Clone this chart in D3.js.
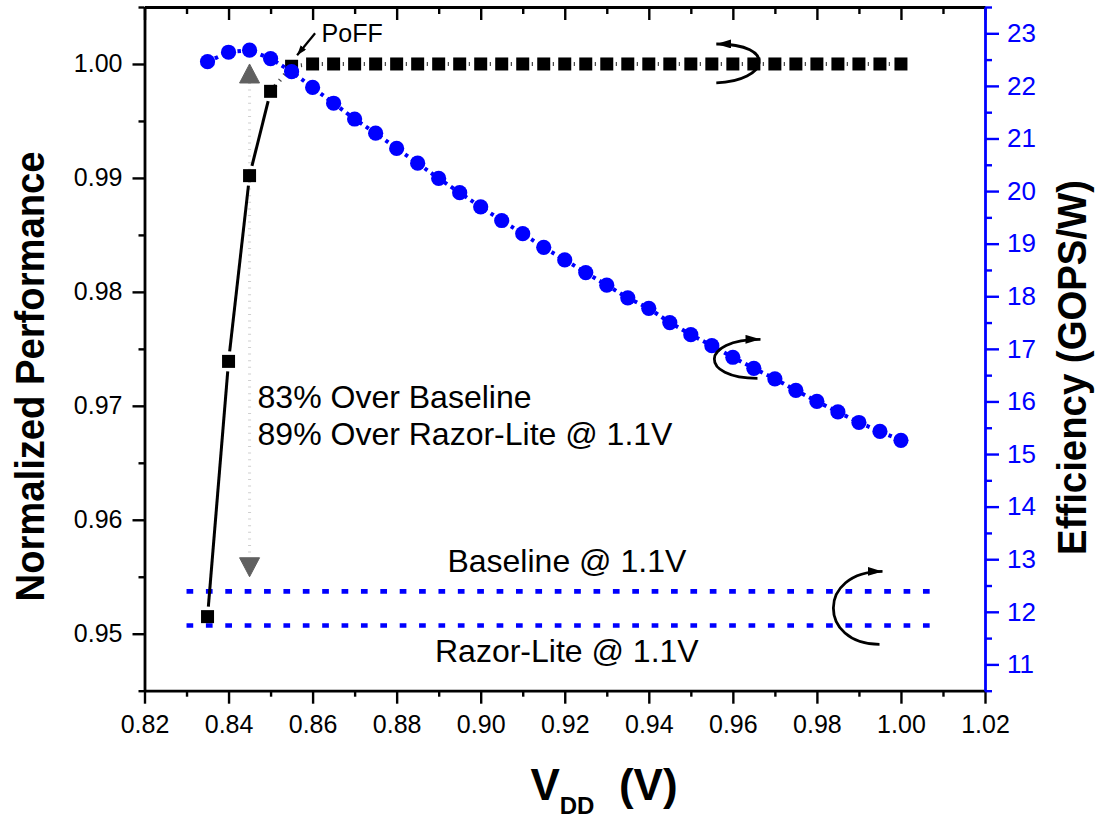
<!DOCTYPE html>
<html>
<head>
<meta charset="utf-8">
<script src="https://cdn.jsdelivr.net/npm/d3@7"></script>
<style>
  html, body { margin: 0; padding: 0; background: #ffffff; }
  svg { display: block; font-family: "Liberation Sans", Arial, Helvetica, sans-serif; }
</style>
</head>
<body>
<svg id="chart" width="1095" height="822"></svg>
<script>
// Supply voltage sweep (V)
const vdd = [0.835, 0.840, 0.845, 0.850, 0.855, 0.860, 0.865, 0.870, 0.875, 0.880,
             0.885, 0.890, 0.895, 0.900, 0.905, 0.910, 0.915, 0.920, 0.925, 0.930,
             0.935, 0.940, 0.945, 0.950, 0.955, 0.960, 0.965, 0.970, 0.975, 0.980,
             0.985, 0.990, 0.995, 1.000];

// Normalized performance (left axis)
const performance = [0.9515, 0.9739, 0.9902, 0.9976, 0.9998, 1.0000, 1.0000, 1.0000, 1.0000, 1.0000,
                     1.0000, 1.0000, 1.0000, 1.0000, 1.0000, 1.0000, 1.0000, 1.0000, 1.0000, 1.0000,
                     1.0000, 1.0000, 1.0000, 1.0000, 1.0000, 1.0000, 1.0000, 1.0000, 1.0000, 1.0000,
                     1.0000, 1.0000, 1.0000, 1.0000];

// Energy efficiency in GOPS/W (right axis)
const efficiency = [22.46, 22.64, 22.68, 22.52, 22.27, 21.97, 21.67, 21.37, 21.10, 20.81,
                    20.53, 20.24, 19.97, 19.70, 19.44, 19.19, 18.93, 18.69, 18.45, 18.21,
                    17.97, 17.77, 17.50, 17.27, 17.06, 16.84, 16.63, 16.43, 16.21, 16.00,
                    15.80, 15.60, 15.43, 15.26];

// Reference designs operated at 1.1 V (right axis)
const baselineEff = 12.39;
const razorLiteEff = 11.74;
const refSpan = [0.830, 1.007];

// Tick values
const xTicks = [0.82, 0.84, 0.86, 0.88, 0.90, 0.92, 0.94, 0.96, 0.98, 1.00, 1.02];
const xMinorTicks = [0.83, 0.85, 0.87, 0.89, 0.91, 0.93, 0.95, 0.97, 0.99, 1.01];
const perfTicks = [0.95, 0.96, 0.97, 0.98, 0.99, 1.00];
const perfMinorTicks = [0.945, 0.955, 0.965, 0.975, 0.985, 0.995, 1.005];
const effTicks = [11, 12, 13, 14, 15, 16, 17, 18, 19, 20, 21, 22, 23];
const effMinorTicks = [10.5, 11.5, 12.5, 13.5, 14.5, 15.5, 16.5, 17.5, 18.5, 19.5, 20.5, 21.5, 22.5, 23.5];

const BLUE = "#0000ff";
const plot = { left: 144.5, right: 985, top: 7, bottom: 690.7 };

const svg = d3.select("#chart");

const x = d3.scaleLinear().domain([0.82, 1.02]).range([plot.left, plot.right]);
const yL = d3.scaleLinear().domain([0.945, 1.005]).range([plot.bottom, plot.top]);
const yR = d3.scaleLinear().domain([10.5, 23.5]).range([plot.bottom, plot.top]);

const perfData = vdd.map((v, i) => ({ v, p: performance[i] }));
const effData = vdd.map((v, i) => ({ v, e: efficiency[i] }));

// Markers for the annotation arrows
const defs = svg.append("defs");
defs.append("marker")
  .attr("id", "headBig").attr("markerUnits", "userSpaceOnUse")
  .attr("markerWidth", 16).attr("markerHeight", 10)
  .attr("refX", 15).attr("refY", 4.5).attr("orient", "auto")
  .append("path").attr("d", "M0,0 L15,4.5 L0,9 Z").attr("fill", "#000");
defs.append("marker")
  .attr("id", "headSmall").attr("markerUnits", "userSpaceOnUse")
  .attr("markerWidth", 11).attr("markerHeight", 8)
  .attr("refX", 10).attr("refY", 3.5).attr("orient", "auto")
  .append("path").attr("d", "M0,0 L10,3.5 L0,7 Z").attr("fill", "#000");

// ---- Reference lines (Baseline / Razor-Lite @ 1.1V)
const refGroup = svg.append("g");
[baselineEff, razorLiteEff].forEach(val => {
  refGroup.append("line")
    .attr("x1", x(refSpan[0])).attr("x2", x(refSpan[1]))
    .attr("y1", yR(val)).attr("y2", yR(val))
    .attr("stroke", BLUE).attr("stroke-width", 4.7)
    .attr("stroke-dasharray", "6.7,12.68");
});

// ---- Grey double arrow marking the gain at the PoFF voltage
const gx = x(0.845);
const gTop = yL(1.000), gBot = yL(0.955);
svg.append("line")
  .attr("x1", gx).attr("x2", gx)
  .attr("y1", gTop + 19).attr("y2", gBot - 19)
  .attr("stroke", "#cfcfcf").attr("stroke-width", 3)
  .attr("stroke-dasharray", "1,5.6");
svg.append("path")
  .attr("d", `M${gx},${gTop} L${gx - 10},${gTop + 19} L${gx + 10},${gTop + 19} Z`)
  .attr("fill", "#606060").attr("stroke", "#606060").attr("stroke-width", 1).attr("stroke-linejoin", "round");
svg.append("path")
  .attr("d", `M${gx},${gBot} L${gx - 10},${gBot - 19} L${gx + 10},${gBot - 19} Z`)
  .attr("fill", "#606060").attr("stroke", "#606060").attr("stroke-width", 1).attr("stroke-linejoin", "round");

// ---- Normalized performance: solid ramp, then dotted plateau
const perfLine = d3.line().x(d => x(d.v)).y(d => yL(d.p));
const rampEnd = 3;
const gapR = 10;
const segGroup = svg.append("g");
for (let i = 0; i < rampEnd; i++) {
  const a = perfData[i], b = perfData[i + 1];
  const x1 = x(a.v), y1 = yL(a.p), x2 = x(b.v), y2 = yL(b.p);
  const len = Math.hypot(x2 - x1, y2 - y1);
  const ux = (x2 - x1) / len, uy = (y2 - y1) / len;
  segGroup.append("line")
    .attr("x1", x1 + ux * gapR).attr("y1", y1 + uy * gapR)
    .attr("x2", x2 - ux * gapR).attr("y2", y2 - uy * gapR)
    .attr("stroke", "#000").attr("stroke-width", 3);
}
svg.append("path")
  .datum(perfData.slice(rampEnd))
  .attr("d", perfLine)
  .attr("fill", "none")
  .attr("stroke", "#444").attr("stroke-width", 4)
  .attr("stroke-dasharray", "1.2,5.8");

svg.append("g").selectAll("rect")
  .data(perfData).join("rect")
  .attr("x", d => x(d.v) - 6.5).attr("y", d => yL(d.p) - 6.5)
  .attr("width", 13).attr("height", 13)
  .attr("fill", "#000");

// ---- Efficiency: dotted blue line with circles
const effLine = d3.line().x(d => x(d.v)).y(d => yR(d.e));
svg.append("path")
  .datum(effData)
  .attr("d", effLine)
  .attr("fill", "none")
  .attr("stroke", BLUE).attr("stroke-width", 4)
  .attr("stroke-dasharray", "3.5,4.5");
svg.append("g").selectAll("circle")
  .data(effData).join("circle")
  .attr("cx", d => x(d.v)).attr("cy", d => yR(d.e))
  .attr("r", 7.6)
  .attr("fill", BLUE);

// ---- Text annotations
const noteX = gx + 8;
const noteY = yL(0.97) + 2;
svg.append("text").attr("x", noteX).attr("y", noteY)
  .attr("font-size", 32).attr("fill", "#000").text("83% Over Baseline");
svg.append("text").attr("x", noteX).attr("y", noteY + 37.5)
  .attr("font-size", 32).attr("fill", "#000").text("89% Over Razor-Lite @ 1.1V");

const refLabelX = x(0.9205);
svg.append("text").attr("x", refLabelX).attr("y", yR(baselineEff) - 19)
  .attr("text-anchor", "middle").attr("font-size", 32).text("Baseline @ 1.1V");
svg.append("text").attr("x", refLabelX).attr("y", yR(razorLiteEff) + 37)
  .attr("text-anchor", "middle").attr("font-size", 32).text("Razor-Lite @ 1.1V");

// PoFF label and pointer
const poffX = x(0.855), poffY = yL(performance[4]);
svg.append("text").attr("x", poffX + 30).attr("y", poffY - 24)
  .attr("font-size", 25).text("PoFF");
svg.append("path")
  .attr("d", `M${poffX + 23.5},${poffY - 33} L${poffX + 5.5},${poffY - 11}`)
  .attr("stroke", "#000").attr("stroke-width", 2.2).attr("fill", "none")
  .attr("marker-end", "url(#headSmall)");

// Curved arrows pointing to the axis each series belongs to
function curvedArrow(cx, cy, d) {
  svg.append("path")
    .attr("transform", `translate(${cx},${cy})`)
    .attr("d", d)
    .attr("fill", "none").attr("stroke", "#000").attr("stroke-width", 2.8)
    .attr("marker-end", "url(#headBig)");
}
curvedArrow(x(0.9613), yL(1.0), "M-22,19 C30,17 40,-20 -22,-20");
curvedArrow(x(0.9611), yR(16.80), "M20,19 C-38,19 -38,-20 23,-20");
curvedArrow(x(0.9899), yR((baselineEff + razorLiteEff) / 2), "M21,36 C-40,36 -42,-37 24,-37");

// ---- Axes
function styleAxis(g, color, width) {
  g.attr("font-family", null);
  g.select(".domain").attr("stroke", color).attr("stroke-width", width);
  g.selectAll(".tick line").attr("stroke", color).attr("stroke-width", 2.4);
  g.selectAll(".tick text").attr("fill", color);
}

// bottom
const gBottom = svg.append("g").attr("transform", `translate(0,${plot.bottom})`)
  .call(d3.axisBottom(x).tickValues(xTicks).tickFormat(d3.format(".2f"))
    .tickSize(13).tickSizeOuter(0).tickPadding(12));
gBottom.selectAll(".tick text").attr("font-size", 25);
styleAxis(gBottom, "#000", 2.8);
const gBottomMinor = svg.append("g").attr("transform", `translate(0,${plot.bottom})`)
  .call(d3.axisBottom(x).tickValues(xMinorTicks).tickFormat("").tickSize(6).tickSizeOuter(0));
gBottomMinor.select(".domain").remove();
styleAxis(gBottomMinor, "#000", 2.8);

// top (ticks inside, no labels)
const gTopAx = svg.append("g").attr("transform", `translate(0,${plot.top})`)
  .call(d3.axisBottom(x).tickValues(xTicks).tickFormat("").tickSize(13).tickSizeOuter(0));
styleAxis(gTopAx, "#000", 2.8);
const gTopMinor = svg.append("g").attr("transform", `translate(0,${plot.top})`)
  .call(d3.axisBottom(x).tickValues(xMinorTicks).tickFormat("").tickSize(7).tickSizeOuter(0));
gTopMinor.select(".domain").remove();
styleAxis(gTopMinor, "#000", 2.8);

// left
const gLeft = svg.append("g").attr("transform", `translate(${plot.left},0)`)
  .call(d3.axisLeft(yL).tickValues(perfTicks).tickFormat(d3.format(".2f"))
    .tickSize(12).tickSizeOuter(0).tickPadding(10));
gLeft.selectAll(".tick text").attr("font-size", 25);
styleAxis(gLeft, "#000", 2.8);
const gLeftMinor = svg.append("g").attr("transform", `translate(${plot.left},0)`)
  .call(d3.axisLeft(yL).tickValues(perfMinorTicks).tickFormat("").tickSize(6).tickSizeOuter(0));
gLeftMinor.select(".domain").remove();
styleAxis(gLeftMinor, "#000", 2.8);

// right (blue)
const gRight = svg.append("g").attr("transform", `translate(${plot.right},0)`)
  .call(d3.axisRight(yR).tickValues(effTicks).tickFormat(d3.format("d"))
    .tickSize(14).tickSizeOuter(0).tickPadding(8));
gRight.selectAll(".tick text").attr("font-size", 26);
styleAxis(gRight, BLUE, 2.8);
const gRightMinor = svg.append("g").attr("transform", `translate(${plot.right},0)`)
  .call(d3.axisRight(yR).tickValues(effMinorTicks).tickFormat("").tickSize(7).tickSizeOuter(0));
gRightMinor.select(".domain").remove();
styleAxis(gRightMinor, BLUE, 2.8);

// ---- Axis titles
svg.append("text")
  .attr("transform", `translate(44,${(plot.top + plot.bottom) / 2 + 27.6}) rotate(-90)`)
  .attr("text-anchor", "middle").attr("font-size", 40).attr("font-weight", "bold")
  .attr("textLength", 450).attr("lengthAdjust", "spacingAndGlyphs")
  .text("Normalized Performance");
svg.append("text")
  .attr("transform", `translate(1086,${(plot.top + plot.bottom) / 2 + 18.6}) rotate(-90)`)
  .attr("text-anchor", "middle").attr("font-size", 40).attr("font-weight", "bold")
  .attr("textLength", 375).attr("lengthAdjust", "spacingAndGlyphs")
  .text("Efficiency (GOPS/W)");

const xTitle = svg.append("text")
  .attr("x", 604).attr("y", 800)
  .attr("text-anchor", "middle").attr("font-weight", "bold");
xTitle.append("tspan").attr("font-size", 44).text("V");
xTitle.append("tspan").attr("font-size", 24).attr("dy", 14).text("DD");
xTitle.append("tspan").attr("font-size", 44).attr("dy", -14).text("\u00a0\u00a0(V)");
</script>
</body>
</html>
